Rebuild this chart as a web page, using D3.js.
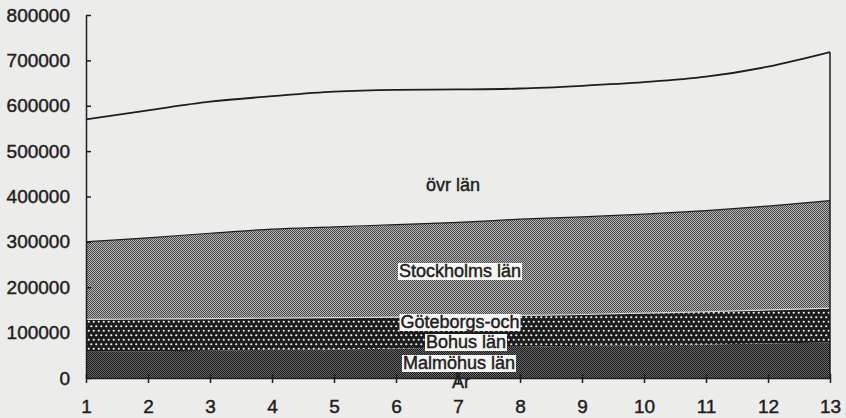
<!DOCTYPE html>
<meta charset="utf-8">
<script src="https://d3js.org/d3.v7.min.js"></script>
<style>
  body { margin: 0; background: #ececea; }
  text { font-family: "Liberation Sans", Arial, sans-serif; fill: #1e1e1e; stroke: #1e1e1e; stroke-width: 0.45px; }
</style>
<div id="my_dataviz"></div>
<script>

// years 1..13, values
var years = [1, 2, 3, 4, 5, 6, 7, 8, 9, 10, 11, 12, 13];
var malmo     = [58000, 59000, 60000, 62000, 63000, 65000, 67000, 69000, 71000, 72000, 74000, 76000, 78000];
var goteborg  = [71000, 71000, 71000, 70000, 70000, 69000, 69000, 69000, 69000, 71000, 72000, 74000, 76000];
var stockholm = [171000, 179000, 188000, 196000, 200000, 204000, 207000, 212000, 215000, 218000, 223000, 229000, 237000];
var ovrigt    = [270000, 281000, 290000, 293000, 298000, 297000, 293000, 288000, 289000, 291000, 295000, 307000, 327000];
var yTicks = [0, 100000, 200000, 300000, 400000, 500000, 600000, 700000, 800000];
var keys = ["malmo", "goteborg", "stockholm", "ovrigt"];

var data = years.map(function (yr, i) {
  return { year: yr, malmo: malmo[i], goteborg: goteborg[i], stockholm: stockholm[i], ovrigt: ovrigt[i] };
});

var width = 846, height = 418;

var svg = d3.select("#my_dataviz")
  .append("svg")
    .attr("width", width)
    .attr("height", height);

// patterns imitating the printed screens
var defs = svg.append("defs");

var p1 = defs.append("pattern").attr("id", "pat-malmo")
  .attr("width", 2).attr("height", 2).attr("patternUnits", "userSpaceOnUse");
p1.append("rect").attr("width", 2).attr("height", 2).attr("fill", "#6a6a6a");
p1.append("rect").attr("width", 1).attr("height", 1).attr("fill", "#181818");
p1.append("rect").attr("x", 1).attr("y", 1).attr("width", 1).attr("height", 1).attr("fill", "#181818");

var p2 = defs.append("pattern").attr("id", "pat-goteborg")
  .attr("width", 5).attr("height", 9).attr("patternUnits", "userSpaceOnUse");
p2.append("rect").attr("width", 5).attr("height", 9).attr("fill", "#1c1c1c");
p2.append("circle").attr("cx", 1.25).attr("cy", 2.25).attr("r", 1.1).attr("fill", "#f4f4f4");
p2.append("circle").attr("cx", 3.75).attr("cy", 6.75).attr("r", 1.1).attr("fill", "#f4f4f4");

var p3 = defs.append("pattern").attr("id", "pat-stockholm")
  .attr("width", 2).attr("height", 2).attr("patternUnits", "userSpaceOnUse");
p3.append("rect").attr("width", 2).attr("height", 2).attr("fill", "#b4b4b4");
p3.append("rect").attr("width", 1).attr("height", 1).attr("fill", "#484848");
p3.append("rect").attr("x", 1).attr("y", 1).attr("width", 1).attr("height", 1).attr("fill", "#484848");

var fills = { malmo: "url(#pat-malmo)", goteborg: "url(#pat-goteborg)", stockholm: "url(#pat-stockholm)", ovrigt: "#ececea" };

// scales
var x = d3.scaleLinear()
  .domain([1, 13])
  .range([86, 830]);

var y = d3.scaleLinear()
  .domain([0, 800000])
  .range([378, 15]);

var series = d3.stack().keys(keys)(data);

var area = d3.area()
  .curve(d3.curveMonotoneX)
  .x(function (d) { return x(d.data.year); })
  .y0(function (d) { return y(d[0]); })
  .y1(function (d) { return y(d[1]); });

var topLine = d3.line()
  .curve(d3.curveMonotoneX)
  .x(function (d) { return x(d.data.year); })
  .y(function (d) { return y(d[1]); });

svg.append("g")
  .selectAll("path")
  .data(series)
  .enter()
  .append("path")
    .attr("d", area)
    .attr("fill", function (d) { return fills[d.key]; });

// boundary lines
svg.append("g")
  .selectAll("path")
  .data(series)
  .enter()
  .append("path")
    .attr("d", topLine)
    .attr("fill", "none")
    .attr("stroke", function (d) { return d.key == "goteborg" ? "#d8d8d8" : "#1e1e1e"; })
    .attr("stroke-width", function (d) { return d.key == "ovrigt" ? 1.8 : 1.2; })
    .style("opacity", function (d) { return d.key == "malmo" ? 0 : 1; });

// right edge of the stack
var last = series[series.length - 1][years.length - 1];
svg.append("line")
  .attr("x1", x(13)).attr("x2", x(13))
  .attr("y1", y(last[1])).attr("y2", y(0))
  .attr("stroke", "#1e1e1e").attr("stroke-width", 1.5);

// Y axis
var yAxis = svg.append("g")
  .attr("transform", "translate(" + x(1) + ",0)")
  .call(d3.axisLeft(y).tickValues(yTicks).tickSizeInner(5).tickSizeOuter(0).tickPadding(11).tickFormat(d3.format("d")));
yAxis.selectAll(".tick line").attr("x2", 5);
yAxis.selectAll("line, path").attr("stroke", "#1e1e1e").attr("stroke-width", 1.5);
yAxis.selectAll("text").style("font-size", "19px").style("font-family", "Liberation Sans, Arial, sans-serif").attr("fill", "#1e1e1e");

// X axis
var xAxis = svg.append("g")
  .attr("transform", "translate(0," + y(0) + ")")
  .call(d3.axisBottom(x).tickValues(years).tickSizeInner(5).tickSizeOuter(0).tickPadding(17).tickFormat(d3.format("d")));
xAxis.selectAll(".tick line").attr("y1", -4);
xAxis.selectAll("line, path").attr("stroke", "#1e1e1e").attr("stroke-width", 1.5);
xAxis.selectAll("text").style("font-size", "19px").style("font-family", "Liberation Sans, Arial, sans-serif").attr("fill", "#1e1e1e");

// area labels
function boxedLabel(txt, cx, base, boxed) {
  var t = svg.append("text")
    .attr("x", cx).attr("y", base)
    .attr("text-anchor", "middle")
    .style("font-size", "18px")
    .text(txt);
  if (boxed) {
    var b = t.node().getBBox();
    svg.insert("rect", function () { return t.node(); })
      .attr("x", b.x - 1).attr("y", b.y + 2)
      .attr("width", b.width + 2).attr("height", b.height - 3)
      .attr("fill", "#f6f6f4");
  }
}

boxedLabel("övr län", 453, 191, false);
boxedLabel("År", 461, 388, false);
boxedLabel("Stockholms län", 460, 277, true);
boxedLabel("Göteborgs-och", 460, 328, true);
boxedLabel("Bohus län", 466, 348, true);
boxedLabel("Malmöhus län", 459, 369, true);

</script>
